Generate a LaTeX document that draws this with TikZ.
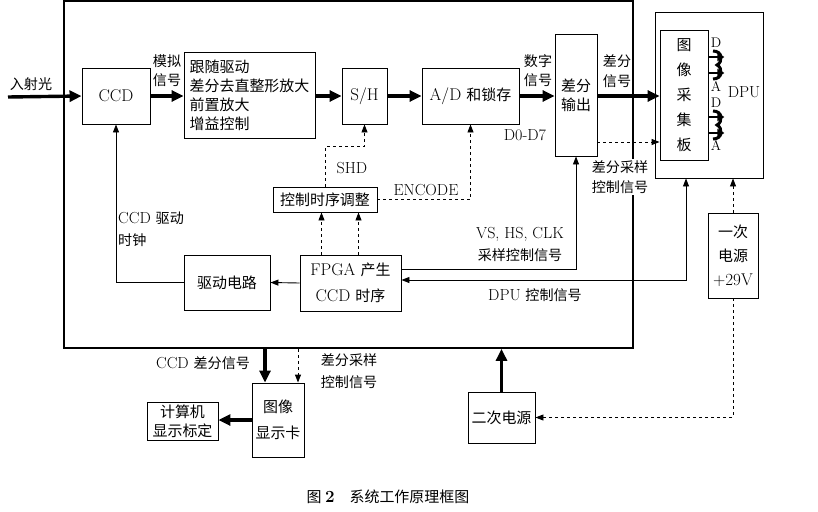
\documentclass[tikz,border=0pt]{standalone}
\usepackage{fontspec}
\usepackage{tikz}
\usetikzlibrary{arrows.meta}
\newfontfamily\cjk[Scale=0.88]{Noto Sans CJK SC}

\begin{document}
\begin{tikzpicture}[x=1pt,y=-1pt,
      box/.style={rectangle,draw,line width=0.9pt,inner sep=1pt,align=center,
                  font=\fontsize{17}{19}\selectfont},
      zh/.style={font=\fontsize{17}{19}\selectfont\cjk},
      lbl/.style={inner sep=0pt,align=center,font=\fontsize{16}{20}\selectfont},
      big/.style={line width=3.4pt,-{Triangle[length=12pt,width=11pt]}},
      sig/.style={line width=0.9pt,-{Triangle[length=8pt,width=6pt]}},
      both/.style={line width=0.9pt,{Triangle[length=8pt,width=6pt]}-{Triangle[length=8pt,width=6pt]}}]
      \useasboundingbox (0,0) rectangle (818,511);
      % system box
      \node[draw,line width=1.8pt,inner sep=0pt,minimum width=569pt,minimum height=347pt] (sys) at (348.5,174.5) {};
      \node[box,minimum width=68pt,minimum height=56pt] (ccd) at (116,96) {CCD};
      \node[box,zh,align=left,minimum width=131pt,minimum height=86pt] (amp) at (249.5,95)
        {跟随驱动\\差分去直整形放大\\前置放大\\增益控制};
      \node[box,minimum width=45pt,minimum height=56pt] (sh) at (364.5,96) {S/H};
      \node[box,minimum width=97pt,minimum height=56pt] (ad) at (470.5,96) {A/D {\cjk 和锁存}};
      \node[box,zh,minimum width=42pt,minimum height=122pt] (diff) at (576,95) {差分\\输出};
      \node[box,zh,minimum width=104pt,minimum height=25pt] (ctrl) at (325,199.5) {控制时序调整};
      \node[box,minimum width=101pt,minimum height=56pt,font=\fontsize{17}{26}\selectfont] (fpga) at (350.5,283)
        {FPGA {\cjk 产生}\\CCD {\cjk 时序}};
      \node[box,zh,minimum width=86pt,minimum height=55pt] (drv) at (227,282.5) {驱动电路};
      % DPU
      \node[box,minimum width=108pt,minimum height=166pt] (dpu) at (709,95) {};
      \node[box,align=center,minimum width=48pt,minimum height=130pt,
            font=\fontsize{17}{25}\selectfont\cjk] (grab) at (684,95) {图\\像\\采\\集\\板};
      \node[box,minimum width=50pt,minimum height=85pt,font=\fontsize{17}{24}\selectfont] (pwr1) at (733,255.5)
        {{\cjk 一次}\\{\cjk 电源}\\+29V};
      % outside
      \node[box,zh,minimum width=67pt,minimum height=51pt] (pwr2) at (501.5,417.5) {二次电源};
      \node[box,zh,minimum width=52pt,minimum height=74pt,font=\fontsize{17}{26}\selectfont\cjk] (card) at (278,420) {图像\\显示卡};
      \node[box,zh,minimum width=71pt,minimum height=38pt] (pc) at (182.5,421) {计算机\\显示标定};

      % texts
      \node[lbl,font=\fontsize{16}{20}\selectfont\cjk] (tlight) at (31,84) {入射光};
      \node[lbl,font=\fontsize{16}{19}\selectfont\cjk] (tana) at (167,71) {模拟\\信号};
      \node[lbl,font=\fontsize{16}{19}\selectfont\cjk] (tdig) at (538,71) {数字\\信号};
      \node[lbl,font=\fontsize{16}{20}\selectfont\cjk] (tdif) at (617,71) {差分\\信号};
      \node[lbl] (tbus) at (525,135) {D0-D7};
      \node[lbl,fill=white,inner sep=1pt,font=\fontsize{16}{20}\selectfont\cjk] (tsam) at (620,177) {差分采样\\控制信号};
      \node[lbl] (tshd) at (352,168) {SHD};
      \node[lbl] (tenc) at (426,190) {ENCODE};
      \node[lbl,align=left,anchor=west,font=\fontsize{16}{22}\selectfont] (tclk) at (118,229) {CCD {\cjk 驱动}\\{\cjk 时钟}};
      \node[lbl,font=\fontsize{16}{22}\selectfont] (tvs) at (520,244) {VS, HS, CLK\\{\cjk 采样控制信号}};
      \node[lbl] (tdpu) at (535,295) {DPU {\cjk 控制信号}};
      \node[lbl] (tccd) at (203,363) {CCD {\cjk 差分信号}};
      \node[lbl,font=\fontsize{16}{22}\selectfont\cjk] (tsam2) at (349,371) {差分采样\\控制信号};
      \node[lbl,font=\fontsize{14}{16}\selectfont] (td1) at (716,43) {D};
      \node[lbl,font=\fontsize{14}{16}\selectfont] (ta1) at (716,87) {A};
      \node[lbl,font=\fontsize{14}{16}\selectfont] (td2) at (716,103) {D};
      \node[lbl,font=\fontsize{14}{16}\selectfont] (ta2) at (716,146) {A};
      \node[lbl,font=\fontsize{16}{18}\selectfont] (tdp) at (744,92) {DPU};
      \node[lbl,font=\fontsize{17}{18}\selectfont\cjk] (cap) at (388,497) {图 {\rmfamily\bfseries 2}\quad 系统工作原理框图};

      % signal path
      \coordinate (light) at (8,97);
      \draw[big] (light) -- (ccd.west);
      \draw[big] (ccd.east) -- (ccd.east -| amp.west);
      \draw[big] (amp.east |- sh) -- (sh.west);
      \draw[big] (sh.east) -- (ad.west);
      \draw[big] (ad.east) -- (ad.east -| diff.west);
      \draw[big] (diff.east |- ad) -- (grab.west |- ad);
      \coordinate (dq) at ([yshift=-47pt]diff.east);
      \draw[sig,dashed] (dq) -- (dq -| grab.west);
      \foreach \yy in {57,73,117,133}
        \draw[line width=2.8pt,-{Triangle[length=7pt,width=8pt]}] (grab.east |- 0,\yy) -- ++(16,0);
      \foreach \yy in {57,117}
        \draw[line width=3pt] (713,\yy-6) .. controls (723,\yy-6) and (723,\yy+5) .. (717,\yy+8)
          .. controls (723,\yy+11) and (723,\yy+22) .. (713,\yy+22);

      % timing
      \draw[sig,dashed] (ctrl.north) -- ++(0,-40) -| (sh.south);
      \draw[sig,dashed] (ctrl.east) -| (ad.south);
      \coordinate (f1) at ([xshift=-29pt]fpga.north);
      \coordinate (f2) at ([xshift=8pt]fpga.north);
      \foreach \p in {f1,f2}
        \draw[sig,dashed] (\p) -- (\p |- ctrl.south);
      \draw[sig] (fpga.west) -- (drv.east);
      \draw[sig] (drv.west) -| (ccd.south);
      \draw[sig] ([yshift=14pt]fpga.east) -| (diff.south);
      \coordinate (dpuin) at ([xshift=-23pt]dpu.south);
      \draw[both] ([yshift=3pt]fpga.east) -| (dpuin);

      % power and display
      \draw[sig,dashed] (pwr1.north) -- (pwr1.north |- dpu.south);
      \draw[sig,dashed] (pwr1.south) |- (pwr2.east);
      \draw[big] (pwr2.north) -- (pwr2.north |- sys.south);
      \coordinate (c1) at ([xshift=-13pt]card.north);
      \coordinate (c2) at ([xshift=20pt]card.north);
      \draw[big] (c1 |- sys.south) -- (c1);
      \draw[sig,dashed] (c2 |- sys.south) -- (c2);
      \draw[big] (card.west) -- (card.west -| pc.east);
\end{tikzpicture}
\end{document}
